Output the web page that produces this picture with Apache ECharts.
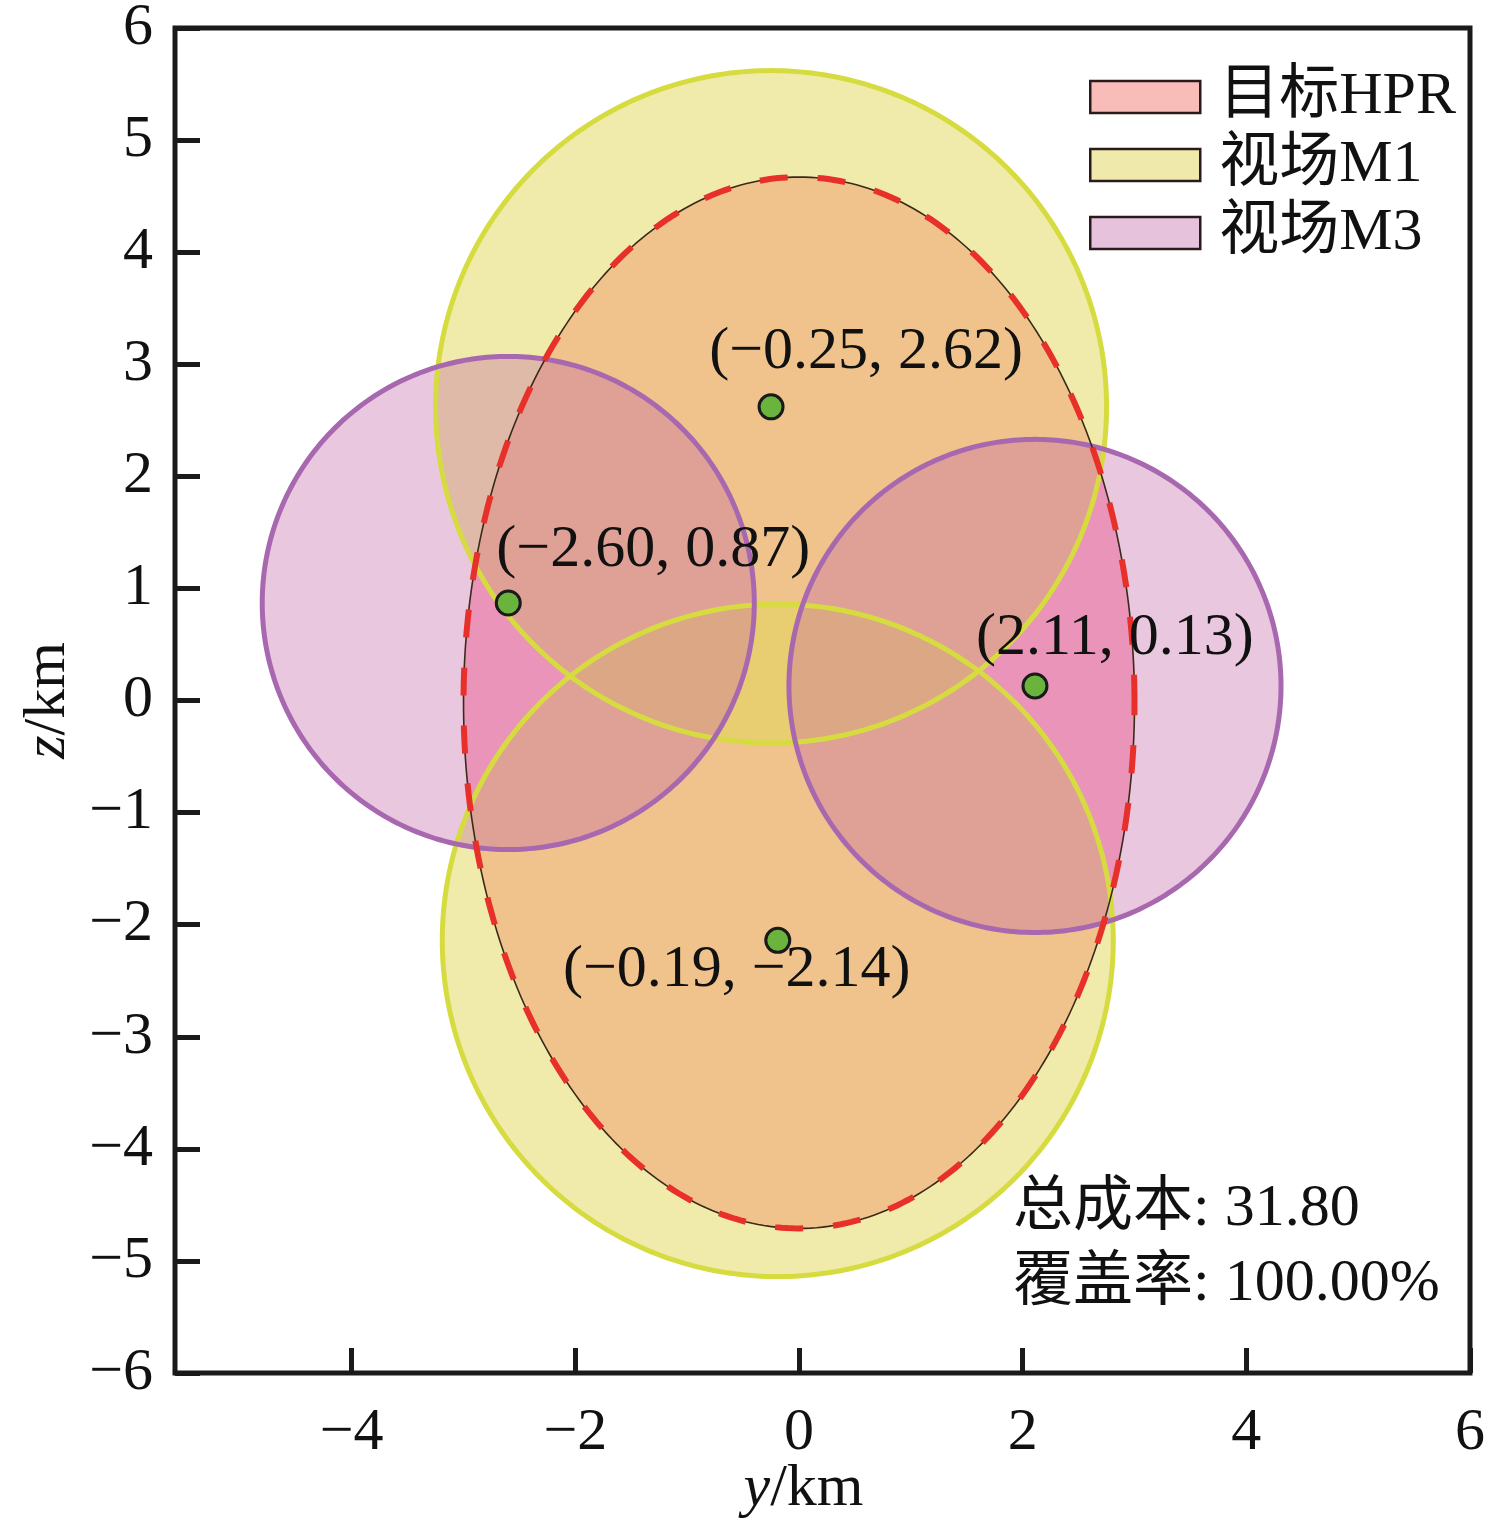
<!DOCTYPE html>
<html>
<head>
<meta charset="utf-8">
<script src="https://cdn.jsdelivr.net/npm/echarts@6/dist/echarts.min.js"></script>
<style>
  html, body { margin: 0; padding: 0; background: #fff; }
  #main { width: 1511px; height: 1527px; }
</style>
</head>
<body>
<div id="main"></div>
<script>
// target HPR ellipse: center and semi-axes (km)
const hprCenter = [0.0, -0.02];
const hprSemiAxes = [3.0, 4.69];

// field-of-view circles (centers in km)
const m1Centers = [[-0.25, 2.62], [-0.19, -2.14]];
const m1Radius = 3.0;
const m3Centers = [[-2.60, 0.87], [2.11, 0.13]];
const m3Radius = 2.2;

const xTicks = [-4, -2, 0, 2, 4, 6];

const totalCost = 31.80;
const coverage = 100.00;

// label offsets (px) for the center annotations, same order as m1Centers.concat(m3Centers)
const labelOffsets = [[95, -55], [-41, 30], [145, -53], [80, -48]];

const FONT = '"Liberation Serif", "Noto Sans CJK SC", serif';

function minus(v) {
    return v < 0 ? '\u2212' + Math.abs(v) : String(v);
}
function fmt2(v) {
    return v < 0 ? '\u2212' + Math.abs(v).toFixed(2) : v.toFixed(2);
}

function shape(style) {
    return function (params, api) {
        const cx = api.value(0), cy = api.value(1), rx = api.value(2), ry = api.value(3);
        const pts = [];
        for (let k = 0; k < 360; k++) {
            const t = k / 360 * Math.PI * 2;
            pts.push(api.coord([cx + rx * Math.cos(t), cy + ry * Math.sin(t)]));
        }
        return { type: 'polygon', shape: { points: pts }, style: style };
    };
}

const hprData = [[hprCenter[0], hprCenter[1], hprSemiAxes[0], hprSemiAxes[1]]];
const m1Data = m1Centers.map(c => [c[0], c[1], m1Radius, m1Radius]);
const m3Data = m3Centers.map(c => [c[0], c[1], m3Radius, m3Radius]);

const chart = echarts.init(document.getElementById('main'));

function custom(name, data, style, z) {
    return {
        name: name,
        type: 'custom',
        data: data,
        dimensions: ['x', 'y', 'rx', 'ry'],
        encode: { x: 0, y: 1 },
        renderItem: shape(style),
        z: z,
        silent: true
    };
}

const option = {
    backgroundColor: '#ffffff',
    animation: false,
    grid: {
        left: 175, right: 41, top: 28, bottom: 154,
        outerBoundsMode: 'none',
        containLabel: false,
        show: true, borderColor: '#1a1a1a', borderWidth: 5,
        backgroundColor: 'transparent'
    },
    legend: {
        orient: 'vertical',
        left: 1084, top: 62,
        itemWidth: 110, itemHeight: 32, itemGap: 8,
        icon: 'rect',
        textStyle: { fontFamily: FONT, fontSize: 60, color: '#111', lineHeight: 60, padding: [0, 0, 0, 14] },
        data: [
            { name: '目标HPR', itemStyle: { color: '#f8bdb8', borderColor: '#2a1a1a', borderWidth: 2.5 } },
            { name: '视场M1', itemStyle: { color: '#efeaab', borderColor: '#2a1a1a', borderWidth: 2.5 } },
            { name: '视场M3', itemStyle: { color: '#e7c2dc', borderColor: '#2a1a1a', borderWidth: 2.5 } }
        ]
    },
    xAxis: {
        type: 'value', min: -5.58, max: 6,
        name: '{i|y}/km', nameLocation: 'middle', nameGap: 86, nameMoveOverlap: false,
        nameTextStyle: {
            fontFamily: FONT, fontSize: 60, color: '#111', padding: [0, 38, 0, 0],
            rich: { i: { fontFamily: FONT, fontSize: 60, fontStyle: 'italic', color: '#111' } }
        },
        axisLine: { show: false, onZero: false },
        splitLine: { show: false },
        axisTick: { inside: true, length: 25, customValues: xTicks, lineStyle: { color: '#1a1a1a', width: 5 } },
        axisLabel: { customValues: xTicks, formatter: minus, margin: 30, fontFamily: FONT, fontSize: 60, color: '#111', lineHeight: 60 }
    },
    yAxis: {
        type: 'value', min: -6, max: 6, interval: 1,
        name: '{i|z}/km', nameLocation: 'middle', nameGap: 97, nameRotate: 90, nameMoveOverlap: false,
        nameTextStyle: {
            fontFamily: FONT, fontSize: 60, color: '#111',
            rich: { i: { fontFamily: FONT, fontSize: 60, fontStyle: 'italic', color: '#111' } }
        },
        axisLine: { show: false, onZero: false },
        splitLine: { show: false },
        axisTick: { inside: true, length: 25, lineStyle: { color: '#1a1a1a', width: 5 } },
        axisLabel: { formatter: minus, margin: 22, fontFamily: FONT, fontSize: 60, color: '#111' }
    },
    series: [
        custom('目标HPR', hprData, { fill: 'rgba(255,95,135,0.5)', stroke: null }, 1),
        custom('视场M1', m1Data, { fill: 'rgba(225,215,85,0.5)', stroke: null }, 2),
        custom('视场M3', m3Data, { fill: 'rgba(196,104,166,0.37)', stroke: null }, 3),
        custom('M1边界', m1Data, { fill: null, stroke: '#d6dc40', lineWidth: 5 }, 4),
        custom('M3边界', m3Data, { fill: null, stroke: '#a868b0', lineWidth: 5 }, 5),
        custom('HPR边界', hprData, { fill: null, stroke: '#3a2a1a', lineWidth: 1.6 }, 6),
        custom('HPR虚线', hprData, { fill: null, stroke: '#e8302a', lineWidth: 6, lineDash: [28, 30] }, 7),
        {
            name: '中心',
            type: 'scatter',
            z: 8,
            data: m1Centers.concat(m3Centers).map((c, i) => ({
                value: c,
                label: { offset: labelOffsets[i] }
            })),
            symbol: 'circle',
            symbolSize: 24,
            itemStyle: { color: '#6ab43e', borderColor: '#1a1a1a', borderWidth: 3, opacity: 1 },
            label: {
                show: true,
                position: 'inside',
                formatter: p => '(' + fmt2(p.value[0]) + ', ' + fmt2(p.value[1]) + ')',
                fontFamily: FONT, fontSize: 60, color: '#111'
            },
            silent: true
        }
    ],
    graphic: [
        { type: 'text', left: 1013, top: 1179, style: { text: '总成本: ' + totalCost.toFixed(2), font: '60px ' + FONT, fill: '#111' } },
        { type: 'text', left: 1013, top: 1254, style: { text: '覆盖率: ' + coverage.toFixed(2) + '%', font: '60px ' + FONT, fill: '#111' } }
    ]
};

chart.setOption(option);
</script>
</body>
</html>
